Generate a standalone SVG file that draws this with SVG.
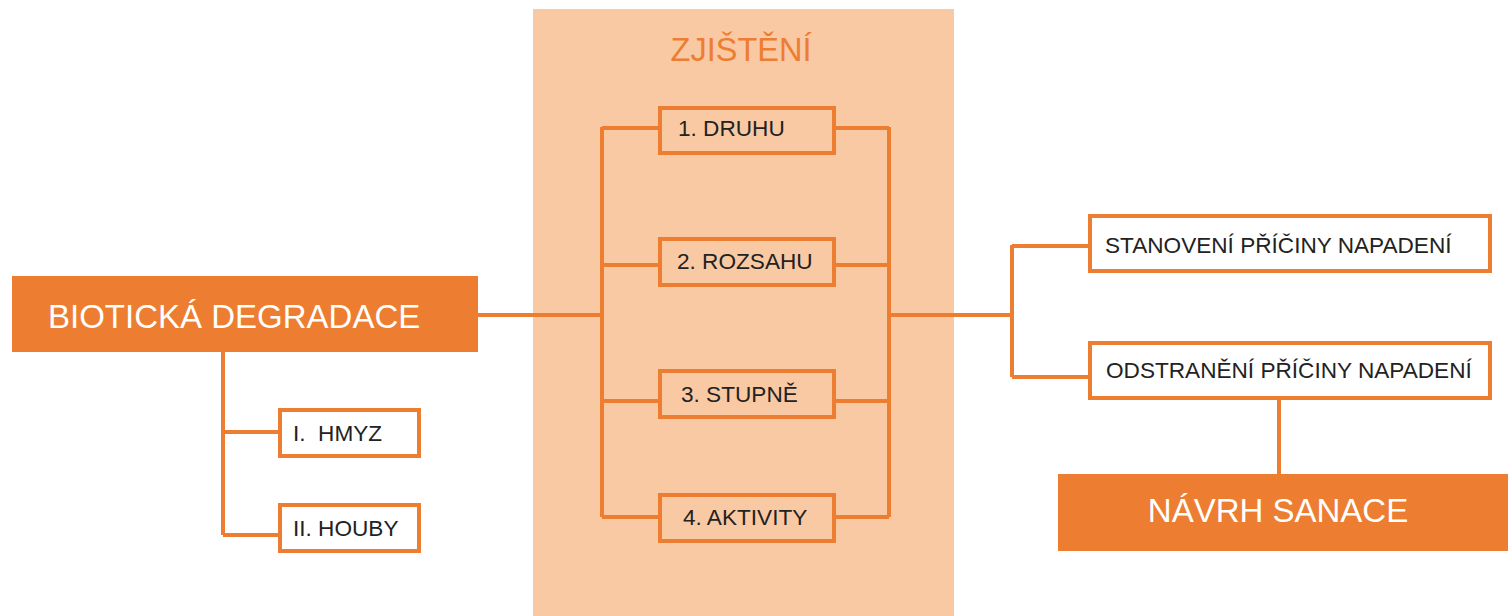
<svg xmlns="http://www.w3.org/2000/svg" width="1510" height="616" viewBox="0 0 1510 616">
<style>
.bg{fill:#F9C9A4}
.solid{fill:#ED7D31}
.box{fill:#fff;stroke:#ED7D31;stroke-width:4}
.pbox{fill:#F9C9A4;stroke:#ED7D31;stroke-width:4}
.conn{fill:none;stroke:#ED7D31;stroke-width:4}
.t{font-family:"Liberation Sans",Arial,sans-serif;font-size:22.6px;fill:#222}
.big{font-family:"Liberation Sans",Arial,sans-serif;font-size:33px;fill:#fff}
.head{font-family:"Liberation Sans",Arial,sans-serif;font-size:32.5px;fill:#ED7D31}
</style>
<rect width="1510" height="616" fill="#fff"/>
<g id="zjisteni-panel">
<rect class="bg" x="533" y="9" width="421" height="607"/>
<text class="head" x="741" y="61" text-anchor="middle">ZJIŠTĚNÍ</text>
</g>
<g id="connectors">
<path class="conn" d="M478 315H602M602 127V517M602 128H660M602 265H660M602 401H660M602 517H660"/>
<path class="conn" d="M834 128H889M834 265H889M834 401H889M834 517H889M889 127V517M889 315H1012M1012 245V377M1012 246H1090M1012 377H1090"/>
<path class="conn" d="M223 352V535M223 432H280M223 535H280"/>
<path class="conn" d="M1279 398V474"/>
</g>
<g id="biotic">
<rect class="solid" x="12" y="276" width="466" height="76"/>
<text class="big" x="48" y="328">BIOTICKÁ DEGRADACE</text>
</g>
<g id="hmyz">
<rect class="box" x="280" y="410" width="139" height="46"/>
<text class="t" x="293" y="441" xml:space="preserve">I.  HMYZ</text>
</g>
<g id="houby">
<rect class="box" x="280" y="505" width="139" height="46"/>
<text class="t" x="293" y="536">II. HOUBY</text>
</g>
<g id="druhu">
<rect class="pbox" x="660" y="108" width="174" height="45"/>
<text class="t" x="678" y="136">1. DRUHU</text>
</g>
<g id="rozsahu">
<rect class="pbox" x="660" y="239" width="174" height="46"/>
<text class="t" x="677" y="269">2. ROZSAHU</text>
</g>
<g id="stupne">
<rect class="pbox" x="660" y="371" width="174" height="46"/>
<text class="t" x="681" y="402">3. STUPNĚ</text>
</g>
<g id="aktivity">
<rect class="pbox" x="660" y="495" width="174" height="46"/>
<text class="t" x="683" y="525">4. AKTIVITY</text>
</g>
<g id="stanoveni">
<rect class="box" x="1090" y="216" width="400" height="55"/>
<text class="t" x="1105" y="253">STANOVENÍ PŘÍČINY NAPADENÍ</text>
</g>
<g id="odstraneni">
<rect class="box" x="1090" y="343" width="400" height="55"/>
<text class="t" x="1106" y="378">ODSTRANĚNÍ PŘÍČINY NAPADENÍ</text>
</g>
<g id="navrh">
<rect class="solid" x="1058" y="474" width="450" height="77"/>
<text class="big" x="1278" y="522" text-anchor="middle">NÁVRH SANACE</text>
</g>
</svg>
